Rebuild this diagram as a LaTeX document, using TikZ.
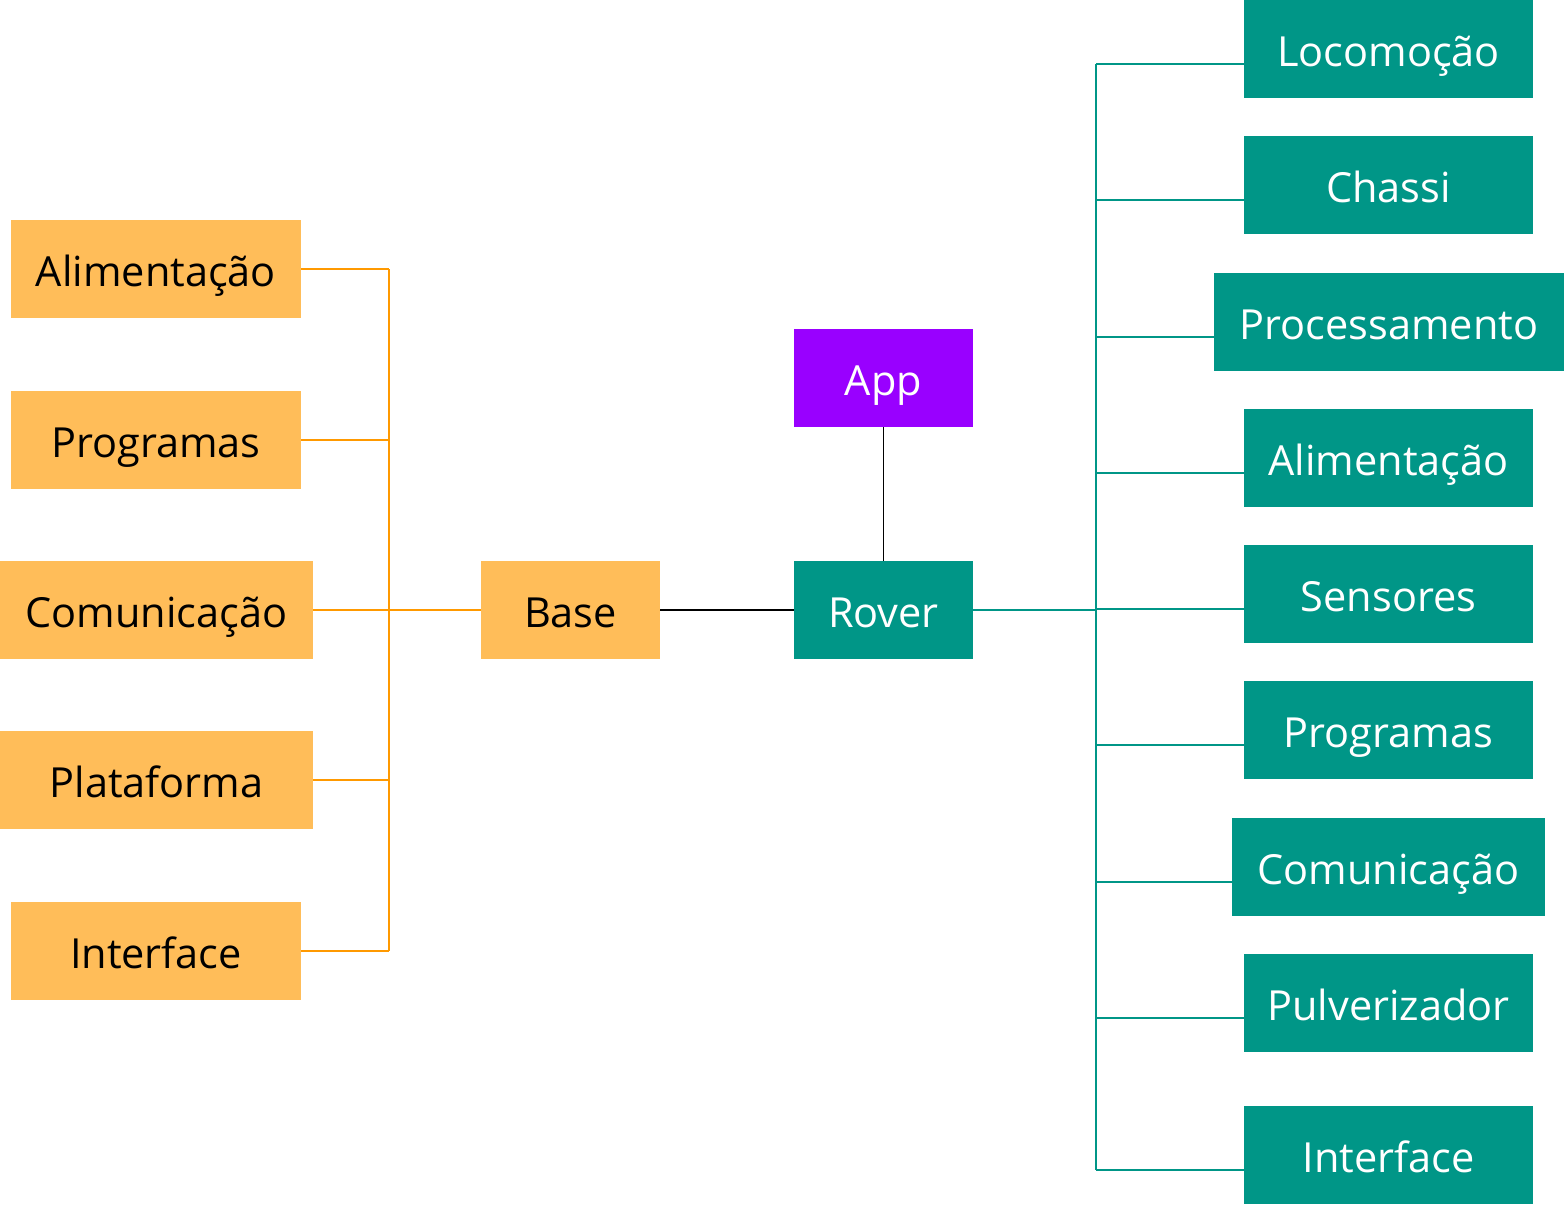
\documentclass[tikz,border=0pt]{standalone}
\usepackage{fontspec}
\setmainfont{Open Sans}
\usepackage{tikz}
\usetikzlibrary{positioning}
\definecolor{laranja}{HTML}{FFBD59}
\definecolor{linhalar}{HTML}{FF9900}
\definecolor{verde}{HTML}{009687}
\definecolor{roxo}{HTML}{9900FF}

\begin{document}
\begin{tikzpicture}[x=0.02cm,y=-0.02cm,
  box/.style={inner sep=0pt,minimum height=1.96cm,text height=0.68cm,text depth=0cm,
    font=\fontsize{23.6}{28}\selectfont},
  obox/.style={box,fill=laranja,text=black},
  tbox/.style={box,fill=verde,text=white},
  abox/.style={box,fill=roxo,text=white},
  oline/.style={linhalar,line width=1.1pt},
  tline/.style={verde,line width=1.1pt},
  kline/.style={black,line width=1.1pt}]
  \useasboundingbox (0,0) rectangle (1564,1205);
  % base e rover
  \node[obox,minimum width=3.58cm] (base) at (570.5,610) {Base};
  \node[tbox,minimum width=3.58cm] (rover) at (883.5,610) {Rover};
  \node[abox,minimum width=3.58cm] (app) at (883.5,378) {App};
  \draw[kline] (base) -- (rover);
  \draw[kline] (app) -- (rover);
  % lado esquerdo
  \node[obox,minimum width=5.8cm] (l1) at (156,269) {Alimentação};
  \node[obox,minimum width=5.8cm] (l2) at (156,440) {Programas};
  \node[obox,minimum width=6.26cm] (l3) at (156.5,610) {Comunicação};
  \node[obox,minimum width=6.26cm] (l4) at (156.5,780) {Plataforma};
  \node[obox,minimum width=5.8cm] (l5) at (156,951) {Interface};
  \coordinate (busL) at (389,610);
  \foreach \n in {1,...,5}
    \draw[oline] (l\n.east) -- (busL |- l\n);
  \draw[oline] (busL |- l1) -- (busL |- l5);
  \draw[oline] (busL) -- (base);
  % lado direito
  \node[tbox,minimum width=5.78cm] (r1) at (1388.5,49) {Locomoção};
  \node[tbox,minimum width=5.78cm] (r2) at (1388.5,185) {Chassi};
  \node[tbox,minimum width=7cm] (r3) at (1389,322) {Processamento};
  \node[tbox,minimum width=5.78cm] (r4) at (1388.5,458) {Alimentação};
  \node[tbox,minimum width=5.78cm] (r5) at (1388.5,594) {Sensores};
  \node[tbox,minimum width=5.78cm] (r6) at (1388.5,730) {Programas};
  \node[tbox,minimum width=6.26cm] (r7) at (1388.5,867) {Comunicação};
  \node[tbox,minimum width=5.78cm] (r8) at (1388.5,1003) {Pulverizador};
  \node[tbox,minimum width=5.78cm] (r9) at (1388.5,1155) {Interface};
  \coordinate (busR) at (1096,610);
  \foreach \n in {1,...,9}{
    \coordinate (s\n) at ([yshift=-0.3cm]r\n.west);
    \draw[tline] (s\n) -- (busR |- s\n);
  }
  \draw[tline] (busR |- s1) -- (busR |- s9);
  \draw[tline] (rover) -- (busR);
\end{tikzpicture}
\end{document}
